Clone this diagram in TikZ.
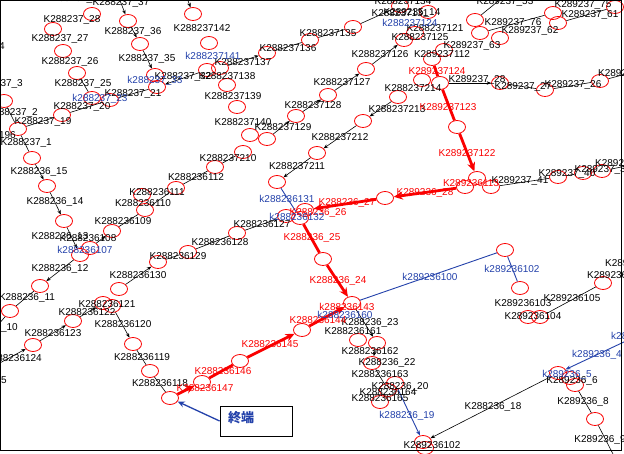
\documentclass[tikz,border=0pt]{standalone}
\usepackage{fontspec}
\setmainfont{Liberation Sans}
\newfontfamily\cjkfont{Noto Sans CJK JP}
\usetikzlibrary{shapes.geometric,arrows.meta}
\definecolor{lblue}{RGB}{35,65,170}
\definecolor{lred}{RGB}{250,0,0}
\begin{document}
\begin{tikzpicture}[x=1pt,y=-1pt,
 cc/.style={ellipse,draw=lred,line width=0.8pt,minimum width=17pt,minimum height=13pt,inner sep=0pt},
 lb/.style={font=\fontsize{10}{10}\selectfont,inner sep=0pt,text=black},
 lr/.style={lb,text=lred},
 lbl/.style={lb,text=lblue},
 ed/.style={draw=black,line width=0.6pt},
 ea/.style={ed,-{Stealth[length=4.5pt,width=3.5pt]}},
 rd/.style={draw=lred,line width=2.8pt},
 ra/.style={rd,-{Stealth[length=9pt,width=8pt]}},
 bl/.style={draw=lblue,line width=0.9pt},
 ba/.style={bl,-{Stealth[length=5pt,width=4pt]}}]
\useasboundingbox (0,0) rectangle (624,454);
% circles
\node[cc] (a28) at (92,14) {};
\node[cc] (a27) at (53,29) {};
\node[cc] (a26) at (63,51) {};
\node[cc] (a25) at (77,73) {};
\node[cc] (a23) at (92,98) {};
\node[cc] (a20) at (110,100) {};
\node[cc] (a19) at (62,115) {};
\node[cc] (a196) at (18,129) {};
\node[cc] (a3) at (4,101) {};
\node[cc] (a37) at (128,21) {};
\node[cc] (a36) at (140,44) {};
\node[cc] (a33) at (155,75) {};
\node[cc] (a21) at (157,87) {};
\node[cc] (b142t) at (193,14) {};
\node[cc] (b142) at (209,43) {};
\node[cc] (b138a) at (207,70) {};
\node[cc] (b138b) at (220,68) {};
\node[cc] (b139) at (227,85) {};
\node[cc] (b140) at (237,107) {};
\node[cc] (b129a) at (250,135) {};
\node[cc] (b129b) at (267,139) {};
\node[cc] (b128) at (296,116) {};
\node[cc] (b127) at (328,95) {};
\node[cc] (b126) at (366,69) {};
\node[cc] (b125) at (404,40) {};
\node[cc] (b121) at (415,33) {};
\node[cc] (b131) at (400,6) {};
\node[cc] (b14) at (428,12) {};
\node[cc] (b136) at (267,53) {};
\node[cc] (b135) at (310,40) {};
\node[cc] (b130) at (353,27) {};
\node[cc] (b112) at (444,50) {};
\node[cc] (b124) at (432,59) {};
\node[cc] (b214a) at (422,80) {};
\node[cc] (b214b) at (440,83) {};
\node[cc] (b213) at (398,97) {};
\node[cc] (b212) at (363,121) {};
\node[cc] (b211) at (317,153) {};
\node[cc] (b210a) at (243,152) {};
\node[cc] (b210b) at (215,167) {};
\node[cc] (b123) at (457,127) {};
\node[cc] (c76) at (475,20) {};
\node[cc] (c62) at (480,33) {};
\node[cc] (c63) at (500,38) {};
\node[cc] (c75) at (553,13) {};
\node[cc] (c61) at (558,23) {};
\node[cc] (c75b) at (615,7) {};
\node[cc] (c28) at (500,83) {};
\node[cc] (c27) at (545,90) {};
\node[cc] (c26) at (600,81) {};
\node[cc] (d113a) at (477,178) {};
\node[cc] (d113b) at (465,187) {};
\node[cc] (d113c) at (491,187) {};
\node[cc] (d41) at (558,177) {};
\node[cc] (d40) at (583,173) {};
\node[cc] (d39) at (602,171) {};
\node[cc] (d27) at (385,198) {};
\node[cc] (e131) at (277,182) {};
\node[cc] (e26a) at (286,216) {};
\node[cc] (e26b) at (300,218) {};
\node[cc] (e26c) at (305,210) {};
\node[cc] (e127) at (237,233) {};
\node[cc] (e25) at (323,259) {};
\node[cc] (e143) at (352,303) {};
\node[cc] (e144) at (302,330) {};
\node[cc] (e145) at (240,361) {};
\node[cc] (e147) at (202,382) {};
\node[cc] (e118) at (170,398) {};
\node[cc] (f15) at (32,158) {};
\node[cc] (f14) at (47,186) {};
\node[cc] (f13) at (64,221) {};
\node[cc] (f108) at (90,248) {};
\node[cc] (f107) at (80,255) {};
\node[cc] (f12) at (40,286) {};
\node[cc] (f11) at (10,311) {};
\node[cc] (f109) at (112,231) {};
\node[cc] (f110) at (145,210) {};
\node[cc] (f111a) at (142,195) {};
\node[cc] (f111b) at (176,188) {};
\node[cc] (f129) at (188,252) {};
\node[cc] (f130) at (158,262) {};
\node[cc] (f131) at (119,289) {};
\node[cc] (f121a) at (103,303) {};
\node[cc] (f121b) at (112,306) {};
\node[cc] (f122) at (73,321) {};
\node[cc] (f123) at (33,345) {};
\node[cc] (f120) at (133,344) {};
\node[cc] (f119) at (150,371) {};
\node[cc] (g161a) at (358,340) {};
\node[cc] (g161b) at (377,343) {};
\node[cc] (g22) at (372,363) {};
\node[cc] (g20a) at (395,383) {};
\node[cc] (g20b) at (388,390) {};
\node[cc] (g165) at (380,402) {};
\node[cc] (g102a) at (423,442) {};
\node[cc] (g102b) at (425,448) {};
\node[cc] (h102) at (505,250) {};
\node[cc] (h103) at (520,288) {};
\node[cc] (h105) at (603,283) {};
\node[cc] (h104a) at (528,317) {};
\node[cc] (h104b) at (540,317) {};
\node[cc] (h5a) at (558,373) {};
\node[cc] (h5b) at (570,378) {};
\node[cc] (h6) at (575,385) {};
\node[cc] (h8) at (595,419) {};
% free ends
\coordinate (t37) at (119,-2);
\coordinate (t142) at (187,-2);
\coordinate (tc76) at (502,-2);
\coordinate (lf11) at (-2,325);
\coordinate (lf123) at (-2,364);
\coordinate (rc26) at (626,74);
\coordinate (rd39) at (626,166);
\coordinate (rh5) at (626,341);
\coordinate (bh8) at (614,456);
% black edges
\draw[ea] (t37) -- (a37);
\draw[ea] (a37) -- (a36);
\draw[ea] (a36) -- (a33);
\draw[ea] (b138a) -- (a21);
\draw[ed] (a196) -- (a19) -- (a20) -- (a21);
\draw[ed] (a3) -- (a196);
\draw[ed] (a196) -- (f15);
\draw[ed] (a25) -- (a23);
\draw[ea] (t142) -- (b142t);
\draw[ea] (b138b) -- (b136);
\draw[ed] (b136) -- (b135) -- (b130) -- (b131);
\draw[ea] (b129b) -- (b128);
\draw[ea] (b128) -- (b127);
\draw[ea] (b127) -- (b126);
\draw[ea] (b126) -- (b125);
\draw[ea] (b213) -- (b212);
\draw[ea] (b212) -- (b211);
\draw[ea] (b211) -- (e131);
\draw[ed] (b210b) -- (b210a);
\draw[ed] (f111b) -- (b210b);
\draw[ed] (c76) -- (tc76);
\draw[ed] (c62) -- (c75);
\draw[ed] (c61) -- (c75b);
\draw[ea] (b214b) -- (c28);
\draw[ed] (c28) -- (c27) -- (c26) -- (rc26);
\draw[ed] (d113c) -- (d41) -- (d40) -- (d39) -- (rd39);
\draw[ea] (f15) -- (f14);
\draw[ea] (f14) -- (f13);
\draw[ea] (f13) -- (f107);
\draw[ea] (f107) -- (f12);
\draw[ed] (f12) -- (f11) -- (lf11);
\draw[ea] (f108) -- (f109);
\draw[ed] (f109) -- (f110) -- (f111b);
\draw[ea] (f131) -- (f130);
\draw[ed] (f130) -- (f129) -- (e127);
\draw[ea] (e127) -- (e26a);
\draw[ea] (lf123) -- (f123);
\draw[ea] (f123) -- (f122);
\draw[ea] (f122) -- (f121a);
\draw[ea] (f121b) -- (f120);
\draw[ed] (f120) -- (f119) -- (e118);
\draw[ea] (e143) -- (g161b);
\draw[ea] (g161b) -- (g22);
\draw[ed] (g22) -- (g20b) -- (g165);
\draw[ed] (h105) -- (h104b);
\draw[ea] (h5a) -- (g102a);
\draw[ed] (h6) -- (h8) -- (bh8);
% blue edges
\draw[bl] (e143) -- (h102);
\draw[bl] (h102) -- (h103);
\draw[bl] (e131) -- (e26b);
\draw[ba] (rh5) -- (h5a);
\draw[ba] (g20a) -- (g102a);
% red path
\draw[rd] (b124) -- (b214b) -- (b123);
\draw[ra] (b123) -- (d113a);
\draw[ra] (d113b) -- (d27);
\draw[ra] (d27) -- (e26c);
\draw[rd] (e26b) -- (e25);
\draw[ra] (e25) -- (e143);
\draw[ra] (e144) -- (e143);
\draw[ra] (e145) -- (e144);
\draw[rd] (e147) -- (e145);
\draw[ra] (e118) -- (e147);
% black labels
\node[lb] (l1) at (75,-1) {K288237\_29};
\node[lb] (l2) at (121,3) {K288237\_37};
\node[lb] (l3) at (72,20) {K288237\_28};
\node[lb] (l4) at (60,39) {K288237\_27};
\node[lb] (l5) at (133,32) {K288237\_36};
\node[lb] (l6) at (147,59) {K288237\_35};
\node[lb] (l7) at (70,62) {K288237\_26};
\node[lb] (l8) at (83,84) {K288237\_25};
\node[lb] (l9) at (183,77) {K288237\_32};
\node[lb] (l10) at (133,94) {K288237\_21};
\node[lb] (l11) at (82,107) {K288237\_20};
\node[lb] (l12) at (43,122) {K288237\_19};
\node[lb,anchor=east] (l13) at (5,47) {K288237\_4};
\node[lb,anchor=east] (l14) at (23,84) {K288237\_3};
\node[lb,anchor=east] (l15) at (38,113) {K288237\_2};
\node[lb,anchor=east] (l16) at (16,135) {K287196};
\node[lb,anchor=east] (l17) at (52,143) {K288237\_1};
\node[lb] (l18) at (202,28) {K288237142};
\node[lb] (l19) at (243,62) {K288237137};
\node[lb] (l20) at (288,48) {K288237136};
\node[lb] (l21) at (328,33) {K288237135};
\node[lb] (l22) at (227,76) {K288237138};
\node[lb] (l23) at (233,96) {K288237139};
\node[lb] (l24) at (243,122) {K288237140};
\node[lb] (l25) at (283,127) {K288237129};
\node[lb] (l26) at (313,105) {K288237128};
\node[lb] (l27) at (342,82) {K288237127};
\node[lb] (l28) at (380,54) {K288237126};
\node[lb] (l29) at (420,37) {K288237125};
\node[lb] (l30) at (435,28) {K288237121};
\node[lb] (l31) at (403,1) {K288237134};
\node[lb] (l32) at (400,13) {K288237131};
\node[lb] (l33) at (412,13) {K289235\_14};
\node[lb] (l34) at (505,2) {K289237\_53};
\node[lb] (l35) at (583,5) {K289237\_75};
\node[lb] (l36) at (590,15) {K289237\_61};
\node[lb] (l37) at (513,23) {K289237\_76};
\node[lb] (l38) at (530,31) {K289237\_62};
\node[lb] (l39) at (472,46) {K289237\_63};
\node[lb] (l40) at (442,54) {K289237112};
\node[lb] (l41) at (413,88) {K288237214};
\node[lb] (l42) at (397,109) {K288237213};
\node[lb] (l43) at (340,137) {K288237212};
\node[lb] (l44) at (297,166) {K288237211};
\node[lb] (l45) at (228,158) {K288237210};
\node[lb] (l46) at (196,177) {K288236112};
\node[lb] (l47) at (477,80) {K289237\_28};
\node[lb] (l48) at (523,87) {K289237\_27};
\node[lb] (l49) at (573,85) {K289237\_26};
\node[lb,anchor=west] (l50) at (598,74) {K289237\_25};
\node[lb] (l51) at (520,181) {K289237\_41};
\node[lb] (l52) at (567,174) {K289237\_40};
\node[lb] (l53) at (603,170) {K289237\_39};
\node[lb,anchor=west] (l54) at (595,164) {K289237\_38};
\node[lb] (l55) at (39,172) {K288236\_15};
\node[lb] (l56) at (55,202) {K288236\_14};
\node[lb] (l57) at (157,192) {K288236111};
\node[lb] (l58) at (143,203) {K288236110};
\node[lb] (l59) at (123,221) {K288236109};
\node[lb] (l60) at (60,237) {K288236\_13};
\node[lb] (l61) at (88,238) {K288236108};
\node[lb] (l62) at (60,269) {K288236\_12};
\node[lb] (l63) at (27,298) {K288236\_11};
\node[lb,anchor=east] (l64) at (18,328) {K288236\_10};
\node[lb] (l65) at (178,256) {K288236129};
\node[lb] (l66) at (220,242) {K288236128};
\node[lb] (l67) at (262,224) {K288236127};
\node[lb] (l68) at (138,275) {K288236130};
\node[lb] (l69) at (107,304) {K288236121};
\node[lb] (l70) at (87,312) {K288236122};
\node[lb] (l71) at (123,324) {K288236120};
\node[lb] (l72) at (53,333) {K288236123};
\node[lb,anchor=east] (l73) at (42,358) {K288236124};
\node[lb,anchor=east] (l74) at (7,380) {K288236125};
\node[lb] (l75) at (142,357) {K288236119};
\node[lb] (l76) at (160,383) {K288236118};
\node[lb] (l77) at (370,323) {K288236\_23};
\node[lb] (l78) at (353,331) {K288236161};
\node[lb] (l79) at (370,351) {K288236162};
\node[lb] (l80) at (387,363) {K288236\_22};
\node[lb] (l81) at (380,374) {K288236163};
\node[lb] (l82) at (400,387) {K288236\_20};
\node[lb] (l83) at (388,392) {K288236164};
\node[lb] (l84) at (380,398) {K288236165};
\node[lb] (l85) at (493,407) {K288236\_18};
\node[lb] (l86) at (432,445) {K289236102};
\node[lb] (l87) at (523,303) {K289236103};
\node[lb] (l88) at (572,298) {K289236105};
\node[lb] (l89) at (533,316) {K289236104};
\node[lb,anchor=west] (l90) at (587,275) {K289236106};
\node[lb,anchor=west] (l91) at (605,263) {K289236107};
\node[lb] (l92) at (572,381) {K289236\_6};
\node[lb] (l93) at (583,402) {K289236\_8};
\node[lb] (l94) at (600,440) {K289236\_9};
% red labels
\node[lr] (r1) at (437,71) {K289237124};
\node[lr] (r2) at (448,107) {K289237123};
\node[lr] (r3) at (467,153) {K289237122};
\node[lr] (r4) at (471,183) {K289236113};
\node[lr] (r5) at (425,193) {K289236\_28};
\node[lr] (r6) at (347,203) {K288236\_27};
\node[lr] (r7) at (318,213) {K288236\_26};
\node[lr] (r8) at (312,238) {K288236\_25};
\node[lr] (r9) at (338,281) {K288236\_24};
\node[lr] (r10) at (347,307) {k288236143};
\node[lr] (r11) at (318,320) {K288236144};
\node[lr] (r12) at (270,344) {K288236145};
\node[lr] (r13) at (223,371) {K288236146};
\node[lr] (r14) at (205,388) {K288236147};
% blue labels
\node[lbl] (u1) at (155,81) {k288237\_33};
\node[lbl] (u2) at (100,99) {k288237\_23};
\node[lbl] (u3) at (213,56) {k288237141};
\node[lbl] (u4) at (410,23) {k288237124};
\node[lbl] (u5) at (287,199) {k288236131};
\node[lbl] (u6) at (297,217) {k288236132};
\node[lbl] (u7) at (85,250) {k288236107};
\node[lbl] (u8) at (430,277) {k289236100};
\node[lbl] (u9) at (512,269) {k289236102};
\node[lbl] (u10) at (345,315) {k288236160};
\node[lbl] (u11) at (407,416) {k288236\_19};
\node[lbl] (u12) at (567,375) {k289236\_5};
\node[lbl,anchor=west] (u13) at (572,355) {k289236\_4};
\node[lbl,anchor=west] (u14) at (611,337) {k289236\_3};
% terminal box
\node[draw=black,line width=0.8pt,minimum width=72pt,minimum height=30pt,inner sep=0pt] (box) at (256,421) {};
\node[inner sep=0pt,text=lblue,font=\cjkfont\bfseries\fontsize{13}{13}\selectfont] (boxt) at (241,418) {終端};
\draw[draw=lblue,line width=1.3pt,-{Stealth[length=7pt,width=6pt]}] (box.west) -- (e118);
% frame
\draw[line width=0.8pt] (0.5,0.5) rectangle (621.5,450.5);
\draw[line width=1.6pt] (0,450.5) -- (622,450.5);
\end{tikzpicture}
\end{document}
